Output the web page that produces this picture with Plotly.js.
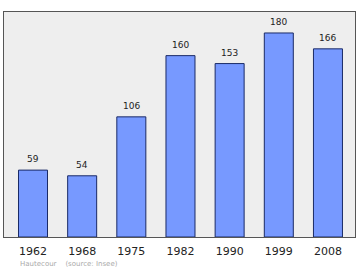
<!DOCTYPE html>
<html><head><meta charset="utf-8">
<script src="https://cdn.plot.ly/plotly-3.0.1.min.js"></script>
<style>html,body{margin:0;padding:0;background:#fff}#c{width:360px;height:270px}</style>
</head><body><div id="c"></div>
<script>
const years = ["1962","1968","1975","1982","1990","1999","2008"];
const population = [59,54,106,160,153,180,166];
const sourceText = "Hautecour    (source: Insee)";

const idx = years.map((_, i) => i);
const trace = {
  type: 'bar', x: idx, y: population, width: 0.59,
  marker: {color: '#7799ff', line: {color: '#1a2a66', width: 1}},
  hoverinfo: 'none'
};
const annotations = population.map((v, i) => ({
  x: i, y: v, text: String(v), showarrow: false, yanchor: 'bottom', yshift: 4,
  font: {family: 'DejaVu Sans, sans-serif', size: 9, color: '#222'}
}));
annotations.push({
  xref: 'paper', yref: 'paper', x: 0.04, y: -0.095, xanchor: 'left', yanchor: 'top',
  text: sourceText, showarrow: false,
  font: {family: 'DejaVu Sans, sans-serif', size: 7, color: '#aaaaaa'}
});
Plotly.newPlot('c', [trace], {
  width: 360, height: 270,
  margin: {l: 4, r: 5, t: 12, b: 33},
  paper_bgcolor: '#ffffff', plot_bgcolor: '#eeeeee',
  showlegend: false,
  xaxis: {range: [-0.59, 6.55], tickvals: idx, ticktext: years, showgrid: false, zeroline: false,
    showline: true, mirror: true, linecolor: '#555', linewidth: 1, ticks: '', ticklabelstandoff: 4,
    tickfont: {family: 'DejaVu Sans, sans-serif', size: 11, color: '#222'}},
  yaxis: {range: [0, 198.5], showgrid: false, zeroline: false, showticklabels: false,
    showline: true, mirror: true, linecolor: '#555', linewidth: 1, ticks: ''},
  annotations: annotations
}, {staticPlot: true});
</script></body></html>
